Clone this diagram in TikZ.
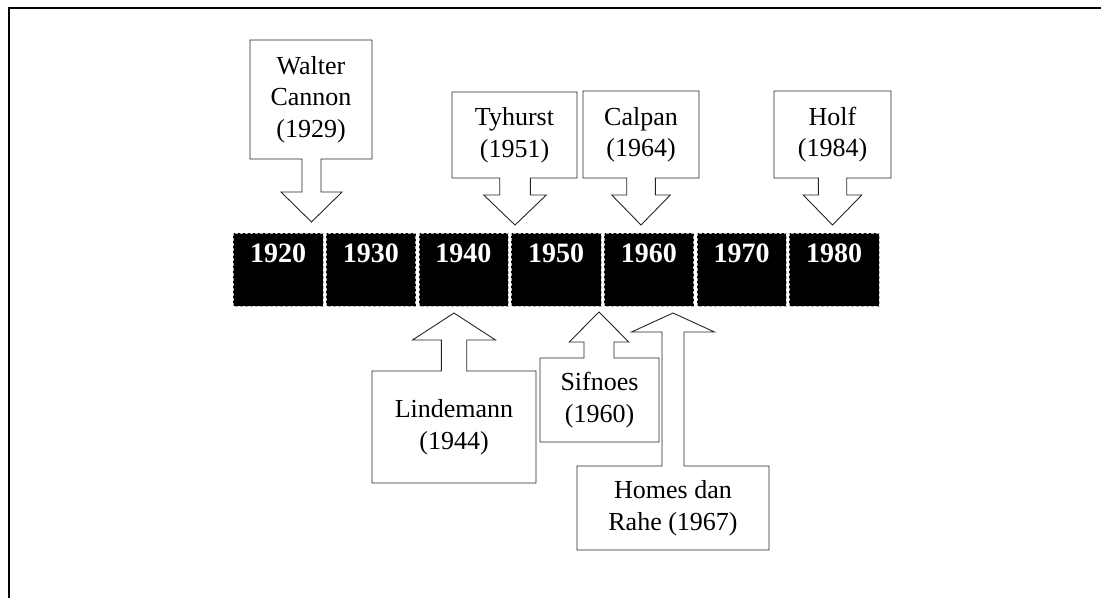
\documentclass[tikz,border=0pt]{standalone}
\usepackage{fontspec}
\setmainfont{Liberation Serif}

\tikzset{
    yearbox/.style={fill=black, draw=gray!60, densely dashed, line width=0.4pt},
    yeartext/.style={text=white, anchor=base, font=\fontsize{28}{28}\selectfont\bfseries},
    callout/.style={draw=black!85, fill=white, line width=0.9pt, line join=miter},
    calltext/.style={align=center, inner sep=0pt, font=\fontsize{26}{31.5}\selectfont},
}

\begin{document}
\begin{tikzpicture}[x=1pt, y=-1pt]
    \useasboundingbox (0,0) rectangle (1101,598);
    \draw[line width=2.2pt] (9,598) -- (9,8) -- (1101,8);

    % the decades
    \foreach \yr [count=\i from 0] in {1920,1930,...,1980} {
        \draw[yearbox] (233.4+92.67*\i, 233) rectangle ++(89.5, 73);
        \node[yeartext] (y\yr) at (278.15+92.67*\i, 262) {\yr};
    }

    % callouts: box from \xa to \xb, \oe = far edge, \ee = edge with the arrow
    \foreach \xa/\xb/\oe/\ee/\cx/\sw/\hw/\hy/\ty/\nm/\txt in {
        250/372/40/159/311.5/9.5/30.5/192/222/walter/{Walter\\Cannon\\(1929)},
        452/577/92/178/515/15.3/31.3/195/225/tyhurst/{Tyhurst\\(1951)},
        583/699/91/178/641/14.3/29.3/195/225/calpan/{Calpan\\(1964)},
        774/891/91/178/832.5/14.2/29.3/195/225/holf/{Holf\\(1984)},
        372/536/483/371/454/12.7/41.5/340/313/lindemann/{Lindemann\\(1944)},
        540/659/442/358/599/15/29.8/342/312/sifnoes/{Sifnoes\\(1960)},
        577/769/550/466/673/11/41.5/332/313/homes/{Homes dan\\Rahe (1967)}} {
        \draw[callout] (\xa,\oe) -- (\xb,\oe) -- (\xb,\ee) -- (\cx+\sw,\ee) -- (\cx+\sw,\hy)
            -- (\cx+\hw,\hy) -- (\cx,\ty) -- (\cx-\hw,\hy) -- (\cx-\sw,\hy) -- (\cx-\sw,\ee)
            -- (\xa,\ee) -- cycle;
        \node[calltext] (\nm) at ({(\xa+\xb)/2}, {(\oe+\ee)/2}) {\txt};
    }
\end{tikzpicture}
\end{document}
